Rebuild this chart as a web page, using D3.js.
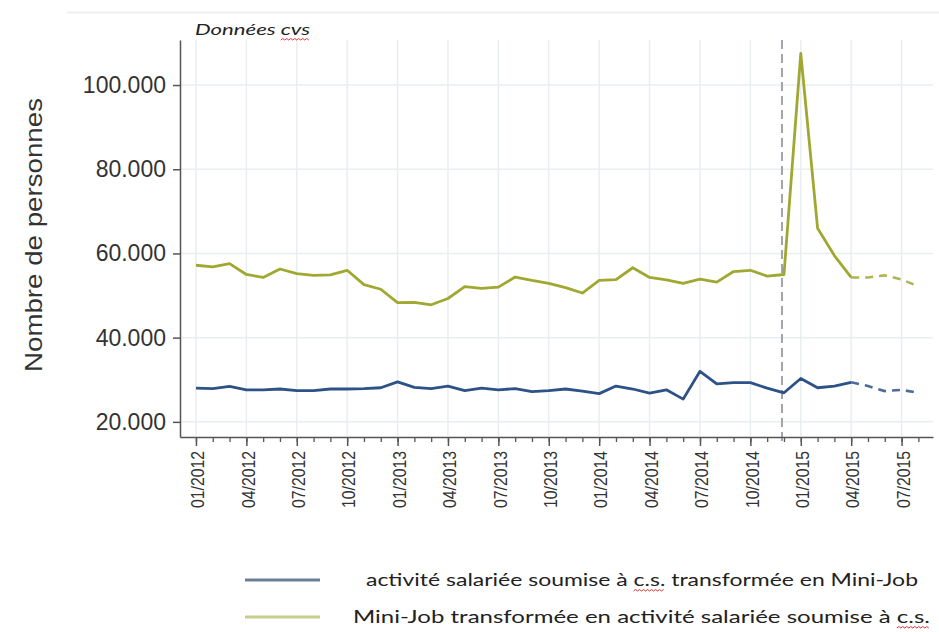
<!DOCTYPE html>
<html>
<head>
<meta charset="utf-8">
<script src="https://cdn.jsdelivr.net/npm/d3@7"></script>
<style>
html,body{margin:0;padding:0;background:#fff;}
svg{display:block;}
</style>
</head>
<body>
<svg id="chart" width="939" height="632"></svg>
<script>
// ---- data ----
const months = ["01/2012","02/2012","03/2012","04/2012","05/2012","06/2012","07/2012","08/2012","09/2012","10/2012","11/2012","12/2012",
"01/2013","02/2013","03/2013","04/2013","05/2013","06/2013","07/2013","08/2013","09/2013","10/2013","11/2013","12/2013",
"01/2014","02/2014","03/2014","04/2014","05/2014","06/2014","07/2014","08/2014","09/2014","10/2014","11/2014","12/2014",
"01/2015","02/2015","03/2015","04/2015","05/2015","06/2015","07/2015","08/2015"];
const miniToRegular = [57200,56800,57600,55000,54300,56300,55200,54800,54900,56000,52600,51500,
48300,48400,47800,49300,52100,51700,52000,54400,53600,52900,51900,50600,
53600,53800,56600,54300,53700,52900,53900,53200,55700,56000,54600,55000,
107500,66000,59500,54300,54300,54800,53800,52200];
const regularToMini = [28000,27900,28400,27600,27600,27800,27400,27400,27800,27800,27900,28100,
29500,28200,27900,28500,27400,28000,27600,27900,27200,27400,27800,27300,
26700,28500,27800,26800,27600,25400,32000,29000,29300,29300,28000,26900,
30300,28100,28500,29400,28500,27300,27600,26900];
const lastObserved = "04/2015";     // dashed after this month
const referenceMonth = "12/2014";   // vertical dashed marker
const yTicks = [20000,40000,60000,80000,100000];
const xTickLabels = ["01/2012","04/2012","07/2012","10/2012","01/2013","04/2013","07/2013","10/2013","01/2014","04/2014","07/2014","10/2014","01/2015","04/2015","07/2015"];
const seriesNames = ["activité salariée soumise à c.s. transformée en Mini-Job","Mini-Job transformée en activité salariée soumise à c.s."];
const yTitle = "Nombre de personnes";
const noteText = "Données cvs";

// ---- drawing ----
const svg = d3.select("#chart");
const blue = "#2d5287", green = "#a0a832";
const idx = m => months.indexOf(m);

const x = d3.scaleLinear().domain([-0.95, 43.87]).range([180, 933]);
const y = d3.scaleLinear().domain([16400, 110700]).range([437, 40]);
const fmt = v => d3.format(",")(v).replace(/,/g, ".");

svg.append("rect").attr("width",939).attr("height",632).attr("fill","#fff");
svg.append("line").attr("x1",67).attr("x2",939).attr("y1",12.5).attr("y2",12.5)
  .attr("stroke","#eef0f0").attr("stroke-width",2);

// grid
const g = svg.append("g");
g.selectAll(".vg").data(xTickLabels).join("line")
  .attr("x1",d=>x(idx(d))).attr("x2",d=>x(idx(d))).attr("y1",40).attr("y2",436)
  .attr("stroke","#e9eef0").attr("stroke-width",1.5);
g.selectAll(".hg").data(yTicks).join("line")
  .attr("x1",180).attr("x2",933).attr("y1",d=>y(d)).attr("y2",d=>y(d))
  .attr("stroke","#e9eef0").attr("stroke-width",1.5);

// reference line
svg.append("line")
  .attr("x1",x(idx(referenceMonth))-2).attr("x2",x(idx(referenceMonth))-2)
  .attr("y1",40).attr("y2",441)
  .attr("stroke","#a3a3ab").attr("stroke-width",2).attr("stroke-dasharray","9,5");

// y axis
const yAxis = svg.append("g").attr("transform","translate(180,0)")
  .call(d3.axisLeft(y).tickValues(yTicks).tickFormat(fmt).tickSize(7).tickSizeOuter(0).tickPadding(7));
yAxis.select(".domain").attr("stroke","#555").attr("stroke-width",1.5);
yAxis.selectAll(".tick line").attr("stroke","#555").attr("stroke-width",1.5);
yAxis.selectAll("text").attr("font-family","'Liberation Sans', Arial, sans-serif")
  .attr("font-size",23).attr("fill","#333");

// x axis minor
const xMinor = svg.append("g").attr("transform","translate(0,437)")
  .call(d3.axisBottom(x).tickValues(d3.range(months.length)).tickSize(5).tickFormat(""));
xMinor.select(".domain").remove();
xMinor.selectAll(".tick line").attr("stroke","#555").attr("stroke-width",1.3);

// x axis major
const xAxis = svg.append("g").attr("transform","translate(0,437)")
  .call(d3.axisBottom(x).tickValues(xTickLabels.map(idx))
    .tickFormat(i=>months[i]).tickSize(9).tickSizeOuter(0).tickPadding(6));
xAxis.select(".domain").attr("stroke","#555").attr("stroke-width",1.5);
xAxis.selectAll(".tick line").attr("stroke","#555").attr("stroke-width",1.5);
xAxis.selectAll("text")
  .attr("font-family","'Liberation Sans', Arial, sans-serif").attr("font-size",19).attr("fill","#333")
  .attr("text-anchor","end").attr("dy","0.35em")
  .attr("textLength",57).attr("lengthAdjust","spacingAndGlyphs")
  .attr("transform","translate(1,14) rotate(-90)").attr("x",0).attr("y",0);

// lines
const cut = idx(lastObserved);
const line = d3.line().x((d,i)=>x(d.i)).y(d=>y(d.v));
function drawSeries(vals, color){
  const pts = vals.map((v,i)=>({i, v}));
  svg.append("path").datum(pts.slice(0,cut+1)).attr("d",line)
    .attr("fill","none").attr("stroke",color).attr("stroke-width",2.8).attr("stroke-linejoin","round");
  svg.append("path").datum(pts.slice(cut)).attr("d",line)
    .attr("fill","none").attr("stroke",color).attr("stroke-width",2.6).attr("stroke-dasharray","8,6").attr("opacity",0.85);
}
drawSeries(regularToMini, blue);
drawSeries(miniToRegular, green);

// y title
svg.append("text").attr("transform","translate(42,235) rotate(-90)")
  .attr("text-anchor","middle").attr("font-family","'Liberation Sans', Arial, sans-serif")
  .attr("font-size",24).attr("fill","#333")
  .attr("textLength",274).attr("lengthAdjust","spacingAndGlyphs").text(yTitle);

// wavy underline helper
function wavy(x0, x1, yy){
  let d = `M${x0},${yy}`;
  let up = true;
  for (let xx = x0 + 2; xx <= x1; xx += 2){ d += ` L${xx},${yy + (up ? -1.5 : 0)}`; up = !up; }
  svg.append("path").attr("d",d).attr("fill","none").attr("stroke","#e03030").attr("stroke-width",1);
}

// note
const note = svg.append("text").attr("x",195).attr("y",35)
  .attr("font-family","Lato, 'Open Sans', sans-serif").attr("font-style","italic")
  .attr("font-size",16).attr("fill","#222").attr("textLength",115).attr("lengthAdjust","spacingAndGlyphs")
  .text(noteText);
{
  const n = note.node(); const s = noteText.indexOf("cvs");
  const a = n.getStartPositionOfChar(s).x, b = n.getEndPositionOfChar(s+2).x;
  wavy(a, b, 40);
}

// legend
const legendRows = [
  {name: seriesNames[0], color:"#6b7e99", lx:366, ly:580, len:552},
  {name: seriesNames[1], color:"#c8cc8c", lx:353, ly:617, len:577}
];
legendRows.forEach(r=>{
  svg.append("line").attr("x1",245).attr("x2",320).attr("y1",r.ly).attr("y2",r.ly)
    .attr("stroke",r.color).attr("stroke-width",3);
  const t = svg.append("text").attr("x",r.lx).attr("y",r.ly+6)
    .attr("font-family","Lato, 'Open Sans', sans-serif").attr("font-size",18).attr("fill","#222")
    .attr("textLength",r.len).attr("lengthAdjust","spacingAndGlyphs").text(r.name);
  const n = t.node(); const s = r.name.indexOf("c.s.");
  const a = n.getStartPositionOfChar(s).x, b = n.getEndPositionOfChar(s+3).x;
  wavy(a, b, r.ly + 11);
});
</script>
</body>
</html>
